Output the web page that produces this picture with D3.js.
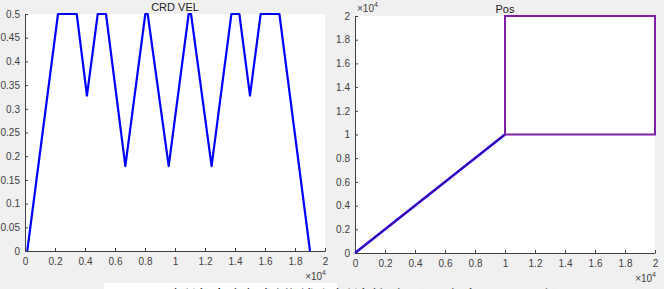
<!doctype html>
<html lang="zh">
<head>
<meta charset="utf-8">
<title>CRD VEL / Pos</title>
<style>
  body { margin: 0; background: #f0f0f0; overflow: hidden; }
  svg { display: block; }
  .tick text { font-family: "Liberation Sans", Arial, sans-serif; font-size: 10px; fill: #404040; }
  .tick line { stroke: #404040; }
  .domain { stroke: #404040; }
</style>
</head>
<body>
<script src="https://d3js.org/d3.v7.min.js"></script>
<script>
// velocity curve (x in counts, v)
var velX = [150, 2200, 3450, 4130, 4850, 5400, 6690, 8020, 8180, 9580, 10910, 11070, 12440, 13760, 14290, 15000, 15710, 16960, 19000];
var velY = [0, 0.5, 0.5, 0.328, 0.5, 0.5, 0.179, 0.5, 0.5, 0.179, 0.5, 0.5, 0.179, 0.5, 0.5, 0.328, 0.5, 0.5, 0];

// position path
var diagX = [0, 10000];
var diagY = [0, 10000];
var rectX = [10000, 20000, 20000, 10000, 10000];
var rectY = [10000, 10000, 20000, 20000, 10000];

var velTicks = d3.range(0, 0.5001, 0.05);
var posTicks = d3.range(0, 20001, 2000);

var w = 664, h = 289;
var svg = d3.select("body").append("svg").attr("width", w).attr("height", h);

var fmt4 = function(d) { return String(+(d / 10000).toFixed(1)); };
var fmtV = function(d) { return String(+d.toFixed(2)); };

function panel(left, top, right, bottom, yDomain, yTicks, yFmt, title) {
  var g = svg.append("g");
  g.append("rect").attr("x", left).attr("y", top)
    .attr("width", right - left).attr("height", bottom - top).attr("fill", "#fff");
  var x = d3.scaleLinear().domain([0, 20000]).range([left, right]);
  var y = d3.scaleLinear().domain(yDomain).range([bottom, top]);
  g.append("g").attr("transform", "translate(0," + bottom + ")")
    .call(d3.axisBottom(x).tickValues(posTicks).tickFormat(fmt4).tickSizeInner(-3).tickSizeOuter(0).tickPadding(7));
  g.append("g").attr("transform", "translate(" + left + ",0)")
    .call(d3.axisLeft(y).tickValues(yTicks).tickFormat(yFmt).tickSizeInner(-3).tickSizeOuter(0).tickPadding(5));
  g.append("text").attr("x", (left + right) / 2).attr("y", top - 3)
    .attr("text-anchor", "middle").attr("font-family", "Liberation Sans, Arial, sans-serif")
    .attr("font-size", 11).attr("fill", "#222").text(title);
  // x10^4 exponent label
  var ex = g.append("text").attr("x", right + 1).attr("y", bottom + 29).attr("text-anchor", "end")
    .attr("font-family", "Liberation Sans, Arial, sans-serif").attr("font-size", 10).attr("fill", "#404040");
  ex.append("tspan").text("\u00d710");
  ex.append("tspan").attr("dy", -5).attr("font-size", 7).text("4");
  return { g: g, x: x, y: y };
}

// left: CRD VEL
var p1 = panel(25, 14, 325, 251, [0, 0.5], velTicks, fmtV, "CRD VEL");
var velLine = d3.line().x(function(d, i) { return p1.x(velX[i]); }).y(function(d) { return p1.y(d); });
p1.g.append("path").attr("d", velLine(velY))
  .attr("fill", "none").attr("stroke", "#0000ff").attr("stroke-width", 2.2).attr("stroke-linejoin", "round");

// right: Pos
var p2 = panel(355, 16, 655, 253, [0, 20000], posTicks, fmt4, "Pos");
var ey = p2.g.append("text").attr("x", 357).attr("y", 12)
  .attr("font-family", "Liberation Sans, Arial, sans-serif").attr("font-size", 10).attr("fill", "#404040");
ey.append("tspan").text("\u00d710");
ey.append("tspan").attr("dy", -5).attr("font-size", 7).text("4");

var posLine = d3.line().x(function(d) { return p2.x(d[0]); }).y(function(d) { return p2.y(d[1]); });
var diag = d3.zip(diagX, diagY);
var rect = d3.zip(rectX, rectY);
p2.g.append("path").attr("d", posLine(diag)).attr("fill", "none").attr("stroke", "#0000ff").attr("stroke-width", 2.4);
p2.g.append("path").attr("d", posLine(diag)).attr("fill", "none").attr("stroke", "#e00000").attr("stroke-width", 1).attr("opacity", 0.6);
p2.g.append("path").attr("d", posLine(rect)).attr("fill", "none").attr("stroke", "#7f1fa6").attr("stroke-width", 2).attr("stroke-linejoin", "miter");

// figure caption, cut by the bottom edge as in the source image
svg.append("rect").attr("x", 104).attr("y", 283).attr("width", 233).attr("height", 6).attr("fill", "#fff");
svg.append("text").attr("x", 111).attr("y", 303.5)
  .attr("font-family", "Noto Sans CJK SC, sans-serif").attr("font-size", 18).attr("fill", "#000")
  .text("图 3.10  插补速度规划曲线和插补轨迹（XY方向平面运动）");
</script>
</body>
</html>
